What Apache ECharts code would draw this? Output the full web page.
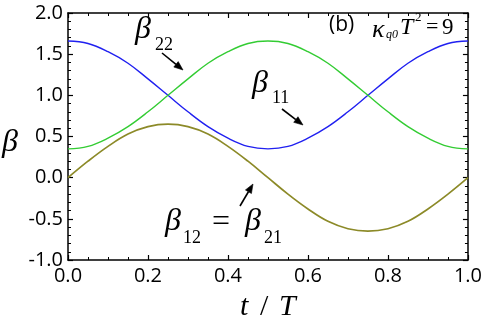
<!DOCTYPE html>
<html>
<head>
<meta charset="utf-8">
<script src="https://cdn.jsdelivr.net/npm/echarts@6/dist/echarts.min.js"></script>
<style>
  html, body { margin: 0; padding: 0; background: #fff; }
  #chart { width: 485px; height: 331px; }
</style>
</head>
<body>
<div id="chart"></div>
<script>
// t / T samples
const tValues = [0, 0.05, 0.1, 0.15, 0.2, 0.25, 0.3, 0.35, 0.4, 0.45, 0.5,
  0.55, 0.6, 0.65, 0.7, 0.75, 0.8, 0.85, 0.9, 0.95, 1.0]
const beta11 = [1.66, 1.63, 1.53, 1.39, 1.20, 1.00, 0.80, 0.62, 0.48, 0.38, 0.35,
  0.38, 0.48, 0.62, 0.80, 1.00, 1.20, 1.39, 1.53, 1.63, 1.66]
const beta22 = [0.35, 0.38, 0.48, 0.62, 0.80, 1.00, 1.20, 1.39, 1.53, 1.63, 1.66,
  1.63, 1.53, 1.39, 1.20, 1.00, 0.80, 0.62, 0.48, 0.38, 0.35]
const beta12 = [0, 0.20, 0.38, 0.53, 0.62, 0.65, 0.62, 0.53, 0.38, 0.20, 0,
  -0.20, -0.38, -0.53, -0.62, -0.65, -0.62, -0.53, -0.38, -0.20, 0]
const xTicks = [0, 1, 0.2]
const yTicks = [-1, 2, 0.5]

const chart = echarts.init(document.getElementById('chart'))

const pair = (ys) => tValues.map((t, i) => [t, ys[i]])
const labelFont = { color: '#000', fontSize: 20, fontFamily: 'Open Sans' }
const serif = 'Liberation Serif'

function axis(kind, position, show) {
  const t = kind === 'x' ? xTicks : yTicks
  return {
    type: 'value', min: t[0], max: t[1], interval: t[2], position,
    axisLine: { show: true, onZero: false, lineStyle: { color: '#000', width: 1.5 } },
    axisTick: { show: true, inside: true, length: 5, lineStyle: { color: '#000', width: 1.2 } },
    minorTick: { show: true, splitNumber: kind === 'x' ? 4 : 5, length: 3,
      lineStyle: { color: '#000', width: 1 } },
    splitLine: { show: false },
    axisLabel: show
      ? Object.assign({ formatter: (v) => v.toFixed(1), margin: kind === 'x' ? 6 : 5 }, labelFont)
      : { show: false },
  }
}

function arrow(x1, y1, x2, y2) {
  const a = Math.atan2(y2 - y1, x2 - x1)
  const L = 9, W = 3.5
  const bx = x2 - L * Math.cos(a), by = y2 - L * Math.sin(a)
  const nx = -Math.sin(a) * W, ny = Math.cos(a) * W
  return [
    { type: 'line', shape: { x1, y1, x2: bx, y2: by }, style: { stroke: '#000', lineWidth: 1.6 } },
    { type: 'polygon', shape: { points: [[x2, y2], [bx + nx, by + ny], [bx - nx, by - ny]] },
      style: { fill: '#000', stroke: '#000', lineWidth: 0.6 } },
  ]
}

function txt(x, y, text, size, italic, family) {
  return {
    type: 'text', x, y,
    style: { text, fill: '#000', fontSize: size, fontStyle: italic ? 'italic' : 'normal',
      fontFamily: family || serif, textVerticalAlign: 'top' },
  }
}

chart.setOption({
  animation: false,
  grid: { left: 68, right: 17, top: 13, bottom: 71 },
  xAxis: [axis('x', 'bottom', true), axis('x', 'top', false)],
  yAxis: [axis('y', 'left', true), axis('y', 'right', false)],
  series: [
    { type: 'line', data: pair(beta11), smooth: 0.4, showSymbol: false,
      lineStyle: { color: '#2020f0', width: 1.4 } },
    { type: 'line', data: pair(beta22), smooth: 0.4, showSymbol: false,
      lineStyle: { color: '#33cc33', width: 1.4 } },
    { type: 'line', data: pair(beta12), smooth: 0.4, showSymbol: false,
      lineStyle: { color: '#8c8a28', width: 1.7 } },
  ],
  graphic: [
    txt(2, 127, 'β', 32, true),
    txt(240, 292, 't', 30, true),
    txt(260, 292, '/', 30, false),
    txt(279, 292, 'T', 30, true),
    txt(329, 15, '(b)', 21, false, 'Open Sans'),
    txt(372, 17, 'κ', 26, true),
    txt(386, 29, 'q0', 12, true),
    txt(400, 16, 'T', 24, true),
    txt(415, 11, '2', 13, false),
    txt(426, 16, '=', 22, false),
    txt(442, 16, '9', 23, false),
    txt(135, 14, 'β', 32, true),
    txt(155, 36, '22', 18, false),
    txt(252, 68, 'β', 32, true),
    txt(272, 89, '11', 18, false),
    txt(165, 206, 'β', 32, true),
    txt(183, 229, '12', 18, false),
    txt(212, 207, '=', 32, false),
    txt(245, 206, 'β', 32, true),
    txt(264, 229, '21', 18, false),
    ...arrow(162, 53, 183, 70),
    ...arrow(282, 109, 303, 125),
    ...arrow(240, 206, 253, 184),
  ],
})
</script>
</body>
</html>
